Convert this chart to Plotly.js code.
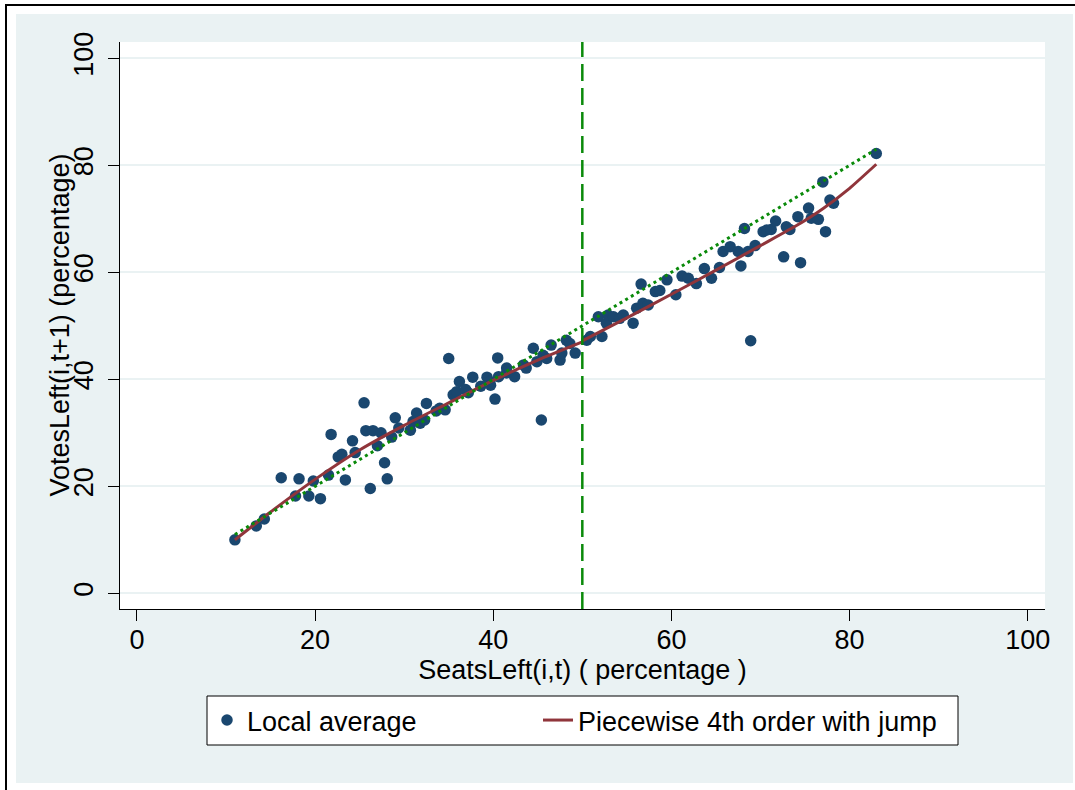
<!DOCTYPE html>
<html>
<head>
<meta charset="utf-8">
<script src="https://cdn.plot.ly/plotly-3.0.1.min.js"></script>
<style>
  html, body { margin: 0; padding: 0; background: #ffffff; width: 1075px; height: 790px; overflow: hidden; }
  #frame { position: absolute; left: 5px; top: 4px; width: 1080px; height: 800px; border-left: 2px solid #000; border-top: 2px solid #000; }
  #chart { position: absolute; left: 16px; top: 14px; width: 1057px; height: 769px; }
</style>
</head>
<body>
<div id="frame"></div>
<div id="chart"></div>
<script>
// ---- Data: local averages (SeatsLeft(i,t), VotesLeft(i,t+1)) ----
const seatsLeft = [
  11.0, 13.4, 14.3, 16.2, 17.8, 18.2, 19.3, 19.8, 20.6, 21.5,
  21.8, 22.6, 23.0, 23.4, 24.2, 24.5, 25.5, 25.7, 26.2, 26.5,
  27.0, 27.4, 27.8, 28.1, 28.6, 29.0, 29.4, 30.7, 31.0, 31.4,
  31.8, 32.3, 32.5, 33.6, 34.0, 34.6, 35.0, 35.5, 35.9, 36.2,
  36.9, 37.2, 37.7, 38.6, 39.3, 39.6, 39.7, 40.2, 40.5, 40.6,
  41.5, 41.5, 42.4, 43.4, 43.7, 44.5, 44.9, 45.4, 45.6, 46.0,
  46.5, 47.5, 47.7, 48.2, 48.6, 49.2, 50.5, 50.9, 51.8, 52.2,
  52.7, 52.9, 53.5, 54.2, 54.6, 55.7, 56.1, 56.6, 56.8, 57.4,
  58.2, 58.7, 59.5, 60.5, 61.2, 61.9, 62.8, 63.7, 64.5, 65.4,
  65.8, 66.6, 67.5, 67.8, 68.2, 68.6, 68.9, 69.4, 70.3, 70.7,
  71.2, 71.7, 72.6, 72.9, 73.3, 74.2, 74.5, 75.4, 75.7, 76.5,
  77.0, 77.3, 77.8, 78.2, 83.0
];
const votesLeft = [
  10.0, 12.6, 13.9, 21.6, 18.2, 21.4, 18.2, 21.0, 17.7, 22.1,
  29.7, 25.5, 26.0, 21.2, 28.5, 26.3, 35.6, 30.4, 19.6, 30.4,
  27.6, 30.0, 24.4, 21.4, 29.2, 32.8, 30.9, 30.5, 32.1, 33.7,
  31.8, 32.4, 35.5, 34.1, 34.6, 34.3, 43.9, 37.1, 37.7, 39.6,
  38.1, 37.5, 40.4, 38.7, 40.4, 39.6, 38.9, 36.3, 44.0, 40.5,
  41.2, 42.1, 40.5, 42.7, 42.1, 45.8, 43.3, 32.4, 44.5, 43.9,
  46.4, 43.6, 44.9, 47.3, 46.7, 44.9, 47.3, 48.0, 51.7, 48.0,
  50.5, 52.0, 51.7, 51.4, 52.0, 50.5, 53.3, 57.8, 54.2, 53.9,
  56.4, 56.6, 58.6, 55.8, 59.3, 58.9, 57.9, 60.7, 58.9, 60.9,
  63.9, 64.8, 63.9, 61.2, 68.2, 63.9, 47.2, 65.0, 67.6, 67.9,
  68.0, 69.6, 62.9, 68.5, 68.0, 70.4, 61.8, 72.0, 70.1, 69.9,
  76.9, 67.6, 73.5, 72.9, 82.2
];

// ---- Piecewise 4th order fit (left and right of the threshold) ----
const fitLeftX  = [11, 15, 20, 25, 30, 35, 40, 45, 50];
const fitLeftY  = [10.0, 15.2, 21.3, 26.8, 31.4, 35.6, 39.8, 43.6, 47.0];
const fitRightX = [50, 55, 60, 65, 70, 74, 77, 80, 83];
const fitRightY = [47.2, 51.5, 55.9, 60.4, 65.0, 68.7, 71.9, 75.7, 80.2];

// ---- 45-degree reference line and threshold ----
const diagonal = [11, 83];
const threshold = 50;

// ---- Axis ticks and labels ----
const xTicks = [0, 20, 40, 60, 80, 100];
const yTicks = [0, 20, 40, 60, 80, 100];
const xTitle = 'SeatsLeft(i,t) ( percentage )';
const yTitle = 'VotesLeft(i,t+1) (percentage)';

const navy = '#1A476F';
const maroon = '#90353B';
const green = '#0A8A0A';
const bg = '#EAF2F3';
const fontFam = '"Liberation Sans", Arial, Helvetica, sans-serif';
const FS = 27;

const traces = [
  {
    type: 'scatter', mode: 'markers', name: 'Local average',
    x: seatsLeft, y: votesLeft,
    marker: { color: navy, size: 11.5, line: { width: 0 } },
    legend: 'legend'
  },
  {
    type: 'scatter', mode: 'lines', name: 'Piecewise 4th order with jump',
    x: fitLeftX.concat([null], fitRightX),
    y: fitLeftY.concat([null], fitRightY),
    line: { color: maroon, width: 3, shape: 'spline', smoothing: 0.5 },
    connectgaps: false,
    legend: 'legend2'
  },
  {
    type: 'scatter', mode: 'lines', name: '45 degree line', showlegend: false,
    x: diagonal, y: diagonal,
    line: { color: green, width: 3, dash: '3px,3.6px' }
  }
];

const txtFont = { size: FS, family: fontFam, color: '#000' };

const layout = {
  width: 1057, height: 769,
  paper_bgcolor: bg,
  plot_bgcolor: '#ffffff',
  margin: { l: 104, r: 28, t: 28, b: 174 },
  font: { family: fontFam, color: '#000', size: FS },
  showlegend: true,
  xaxis: {
    range: [-1.9, 101.94],
    tickvals: xTicks, ticktext: xTicks.map(String),
    ticks: 'outside', ticklen: 11, tickwidth: 1, tickcolor: '#000',
    showline: true, linecolor: '#000', linewidth: 1,
    showgrid: false, zeroline: false,
    tickfont: txtFont,
    ticklabelstandoff: -4,
    title: { text: xTitle, font: txtFont, standoff: 0 },
    automargin: false
  },
  yaxis: {
    range: [-2.93, 103.05],
    tickvals: yTicks, ticktext: yTicks.map(String),
    tickangle: -90,
    ticks: 'outside', ticklen: 11, tickwidth: 1, tickcolor: '#000',
    showline: true, linecolor: '#000', linewidth: 1,
    showgrid: true, gridcolor: bg, gridwidth: 2,
    zeroline: false,
    tickfont: txtFont,
    ticklabelstandoff: 4,
    automargin: false
  },
  annotations: [
    {
      text: yTitle, textangle: -90,
      xref: 'paper', yref: 'paper',
      x: (59 - 120) / 925, y: 0.5,
      xanchor: 'center', yanchor: 'middle',
      showarrow: false,
      font: txtFont
    }
  ],
  shapes: [
    {
      type: 'line', xref: 'x', yref: 'paper',
      x0: threshold, x1: threshold, y0: 0, y1: 1,
      line: { color: green, width: 2.5, dash: '17px,7px' }
    },
    {
      type: 'rect', xref: 'paper', yref: 'paper', layer: 'below',
      x0: (207 - 120) / 925, x1: (958 - 120) / 925,
      y0: (609 - 745) / 567, y1: (609 - 696) / 567,
      fillcolor: '#ffffff', line: { color: '#000', width: 1 }
    }
  ],
  legend: {
    orientation: 'h',
    xref: 'container', yref: 'container',
    x: 191 / 1057, y: (769 - 682) / 769,
    xanchor: 'left', yanchor: 'top',
    bgcolor: 'rgba(0,0,0,0)', borderwidth: 0,
    font: txtFont
  },
  legend2: {
    orientation: 'h',
    xref: 'container', yref: 'container',
    x: 522 / 1057, y: (769 - 682) / 769,
    xanchor: 'left', yanchor: 'top',
    bgcolor: 'rgba(0,0,0,0)', borderwidth: 0,
    font: txtFont
  }
};

Plotly.newPlot('chart', traces, layout, { displayModeBar: false, staticPlot: true });
</script>
</body>
</html>
